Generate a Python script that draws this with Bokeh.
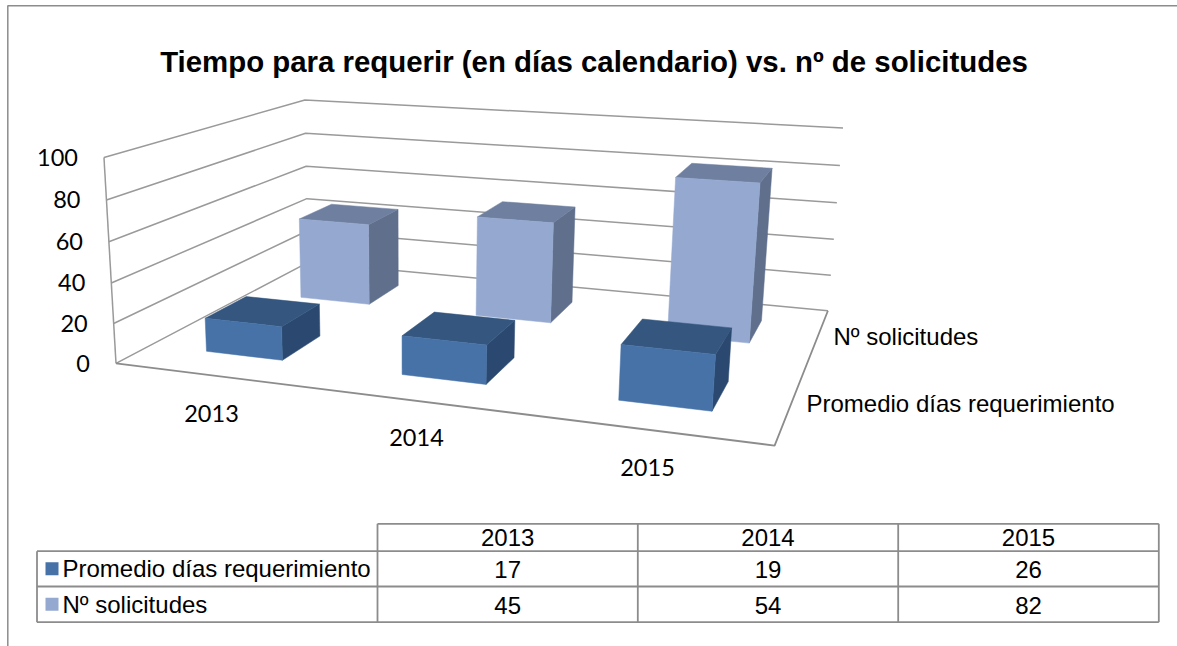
import numpy as np
from bokeh.plotting import figure
from bokeh.embed import file_html
from bokeh.resources import INLINE
from bokeh.core.properties import value

title = "Tiempo para requerir (en días calendario) vs. nº de solicitudes"
categories = ["2013", "2014", "2015"]
series_names = ["Promedio días requerimiento", "Nº solicitudes"]
promedio = [17, 19, 26]
solicitudes = [45, 54, 82]
y_ticks = [0, 20, 40, 60, 80, 100]

W, H = 1177, 646
FRONT = ["#4672A8", "#95A9D0"]
TOP = ["#34567F", "#6F7F9F"]
SIDE = ["#2B4970", "#5F6F8C"]
GRID = "#9A9A9A"
AXIS = "#8C8C8C"
GAP = 0.3  # fraction of a slot left empty on each side of a bar

# camera calibration: (u, v, height) -> screen pixel
cal_world = [(0,0,0),(1,0,0),(1,1,0),(0,1,0),(0,0,100),(0,1,100),(1,1,100)]
cal_px = [(117,362),(774,446),(828,309),(306,263),(102,157),(306,99),(842,128)]
A, b = [], []
for (u,v,h),(x,y) in zip(cal_world, cal_px):
    A.append([u,v,h,1,0,0,0,0,-x*u,-x*v,-x*h]); b.append(x)
    A.append([0,0,0,0,u,v,h,1,-y*u,-y*v,-y*h]); b.append(y)
m = np.linalg.lstsq(np.array(A,float), np.array(b,float), rcond=None)[0]
def proj(u,v,h):
    d = m[8]*u+m[9]*v+m[10]*h+1
    return (m[0]*u+m[1]*v+m[2]*h+m[3])/d, (m[4]*u+m[5]*v+m[6]*h+m[7])/d

p = figure(width=W, height=H, x_range=(0,W), y_range=(H,0), toolbar_location=None,
           output_backend="svg", min_border=0, outline_line_color=None,
           styles={"position":"absolute","left":"0px","top":"0px"})
p.axis.visible = False
p.grid.visible = False

# outer frame
p.line([7.3,7.3,W],[H,5.3,5.3], line_color=AXIS, line_width=1.5)

# walls
for t in y_ticks:
    pts = [proj(0,0,t), proj(0,1,t), proj(1,1,t)]
    p.line([q[0] for q in pts],[q[1] for q in pts], line_color=GRID, line_width=1.5)
pts = [proj(0,0,0), proj(0,0,100)]
p.line([q[0] for q in pts],[q[1] for q in pts], line_color=GRID, line_width=1.5)
pts = [proj(0,0,0), proj(1,0,0), proj(1,1,0)]
p.line([q[0] for q in pts],[q[1] for q in pts], line_color=AXIS, line_width=1.8)

# bars, back series first
def bar(i, s, val):
    u0,u1 = (i+GAP)/3,(i+1-GAP)/3
    v0,v1 = (s+GAP)/2,(s+1-GAP)/2
    faces = [
        ([(u1,v0,0),(u1,v1,0),(u1,v1,val),(u1,v0,val)], SIDE[s]),
        ([(u0,v0,val),(u1,v0,val),(u1,v1,val),(u0,v1,val)], TOP[s]),
        ([(u0,v0,0),(u1,v0,0),(u1,v0,val),(u0,v0,val)], FRONT[s]),
    ]
    for f,c in faces:
        q = [proj(*w) for w in f]
        p.patch([a[0] for a in q],[a[1] for a in q], fill_color=c, line_color=c, line_width=0.5)
for s,vals in [(1,solicitudes),(0,promedio)]:
    for i,val in enumerate(vals):
        bar(i,s,val)

SANS = value("Liberation Sans")
LATO = value("Lato")
def txt(x,y,t,size,font=SANS,align="center",style="normal"):
    p.text([x],[y],text=[t],text_font=font,text_font_size=size,text_align=align,
           text_baseline="middle",text_color="#000000",text_font_style=style)

txt(593.5,61,title,"29.4px",style="bold")
for t in y_ticks:
    x,y = proj(0,0,t)
    txt(x-26,y,str(t),"23.5px",LATO,"right")
for c,x,y in zip(categories,[211,416,647],[413,437,467]):
    txt(x,y,c,"23.5px",LATO)
txt(833,336,series_names[1],"24px",align="left")
txt(806,403,series_names[0],"24px",align="left")

# data table
xs = [36.5,377,637.3,897.7,1158.3]
ys = [523.3,550.7,586,621.7]
for y in ys[1:]:
    p.line([xs[0],xs[-1]],[y,y],line_color=AXIS,line_width=1.8)
p.line([xs[1],xs[-1]],[ys[0],ys[0]],line_color=AXIS,line_width=1.8)
p.line([xs[0],xs[0]],[ys[1],ys[3]],line_color=AXIS,line_width=1.8)
for x in xs[1:]:
    p.line([x,x],[ys[0],ys[3]],line_color=AXIS,line_width=1.8)
for j,c in enumerate(categories):
    cx = (xs[j+1]+xs[j+2])/2
    txt(cx,537,c,"24px")
    txt(cx,568.5,str(promedio[j]),"24px")
    txt(cx,604.5,str(solicitudes[j]),"24px")
for k,(name,col) in enumerate(zip(series_names,FRONT)):
    cy = (ys[k+1]+ys[k+2])/2
    p.quad(left=[45],right=[58],top=[cy-6.5],bottom=[cy+6.5],fill_color=col,line_color=None)
    txt(62,cy,name,"24px",align="left")

open("out.html","w").write(file_html(p, INLINE))
